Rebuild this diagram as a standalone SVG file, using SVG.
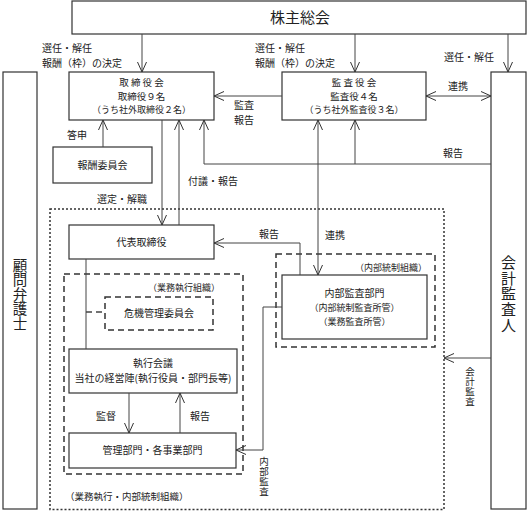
<svg xmlns="http://www.w3.org/2000/svg" width="527" height="511" viewBox="0 0 527 511">
<style>
text{font-family:"Noto Sans CJK JP","Noto Sans",sans-serif;fill:#222;font-size:10px}
.c{text-anchor:middle}
.big{font-size:15px}
.s{font-size:9px}
.m{font-size:9.5px}
.v{writing-mode:vertical-rl;font-size:9.5px;letter-spacing:0.3px}
.vb{writing-mode:vertical-rl;font-size:14.5px}
.box{fill:#fff;stroke:#333;stroke-width:1.2}
.dot{fill:none;stroke:#333;stroke-width:1.5;stroke-dasharray:2 2}
.dash{fill:none;stroke:#333;stroke-width:1.5;stroke-dasharray:6 4}
.ln{fill:none;stroke:#444;stroke-width:1}
</style>
<defs>
<marker id="a" viewBox="0 0 10 10" refX="10" refY="5" markerWidth="10" markerHeight="10" markerUnits="userSpaceOnUse" orient="auto-start-reverse">
<path d="M0,0.5 L10,5 L0,9.5" fill="none" stroke="#333" stroke-width="1"/>
</marker>
</defs>
<rect width="527" height="511" fill="#fff"/>

<g id="outer-org">
<rect class="dot" x="50" y="209" width="394" height="300.5"/>
<text x="65" y="500" style="font-size:9.5px">（業務執行・内部統制組織）</text>
</g>
<g id="exec-org">
<rect class="dash" x="64" y="274" width="179" height="200"/>
<text class="s" x="220" y="290.5" text-anchor="end">（業務執行組織）</text>
</g>
<g id="ic-org">
<rect class="dash" x="276" y="254" width="159" height="93"/>
<text class="s" x="427" y="270.5" text-anchor="end">（内部統制組織）</text>
</g>

<g id="shareholders">
<rect class="box" x="72" y="1" width="454" height="33"/>
<text class="c big" x="300" y="23">株主総会</text>
</g>
<g id="board">
<rect class="box" x="69" y="72" width="145" height="48"/>
<text class="c m" x="141.5" y="85.5">取 締 役 会</text>
<text class="c m" x="141.5" y="99.5">取締役９名</text>
<text class="c s" x="141.5" y="113">（うち社外取締役２名）</text>
</g>
<g id="auditors">
<rect class="box" x="282" y="72" width="144" height="48"/>
<text class="c m" x="354" y="85.5">監 査 役 会</text>
<text class="c m" x="354" y="99.5">監査役４名</text>
<text class="c s" x="354" y="113">（うち社外監査役３名）</text>
</g>
<g id="lawyer">
<rect class="box" x="3" y="72" width="34" height="437"/>
<text class="vb" x="20" y="258">顧問弁護士</text>
</g>
<g id="accountant">
<rect class="box" x="491" y="72" width="35" height="437"/>
<text class="vb" x="508.5" y="255" style="font-size:15px;letter-spacing:0.6px">会計監査人</text>
</g>
<g id="compensation">
<rect class="box" x="53" y="147" width="99" height="36"/>
<text class="c" x="102.5" y="168.5">報酬委員会</text>
</g>
<g id="ceo">
<rect class="box" x="69" y="225" width="145" height="34"/>
<text class="c" x="141.5" y="245.5">代表取締役</text>
</g>
<g id="risk">
<rect class="dash" x="105" y="297" width="108" height="33"/>
<text class="c" x="159" y="317">危機管理委員会</text>
</g>
<g id="exec-meeting">
<rect class="box" x="69" y="349" width="168" height="44"/>
<text class="c" x="153" y="366.5">執行会議</text>
<text class="c" x="153" y="381.5">当社の経営陣(執行役員・部門長等)</text>
</g>
<g id="departments">
<rect class="box" x="69" y="433" width="167" height="35"/>
<text class="c" x="152.5" y="454">管理部門・各事業部門</text>
</g>
<g id="internal-audit">
<rect class="box" x="282" y="275" width="145" height="64"/>
<text class="c" x="354.5" y="296.5">内部監査部門</text>
<text class="c s" x="354.5" y="311">（内部統制監査所管）</text>
<text class="c s" x="354.5" y="325">（業務監査所管）</text>
</g>

<g id="connectors">
<path class="ln" d="M142,34 V72" marker-end="url(#a)"/>
<path class="ln" d="M355,34 V72" marker-end="url(#a)"/>
<path class="ln" d="M508,34 V72" marker-end="url(#a)"/>
<path class="ln" d="M426,96 H491" marker-start="url(#a)" marker-end="url(#a)"/>
<path class="ln" d="M282,96 H214" marker-end="url(#a)"/>
<path class="ln" d="M103,147 V120" marker-end="url(#a)"/>
<path class="ln" d="M162,120 V225" marker-end="url(#a)"/>
<path class="ln" d="M179,225 V120" marker-end="url(#a)"/>
<path class="ln" d="M491,164 H204 V120" marker-end="url(#a)"/>
<path class="ln" d="M355,164 V120" marker-end="url(#a)"/>
<path class="ln" d="M318,120 V275" marker-start="url(#a)" marker-end="url(#a)"/>
<path class="ln" d="M300,275 V243 H214" marker-end="url(#a)"/>
<path class="ln" d="M86,259 V349"/>
<path class="ln" d="M86,312 H105" stroke-dasharray="6 4" style="stroke-width:1.5"/>
<path class="ln" d="M129,393 V433" marker-end="url(#a)"/>
<path class="ln" d="M180,433 V393" marker-end="url(#a)"/>
<path class="ln" d="M282,307 H263 V450 H236" marker-end="url(#a)"/>
<path class="ln" d="M491,358 H444" marker-end="url(#a)"/>

<text x="42" y="51.5">選任・解任</text>
<text x="42" y="66.5">報酬（枠）の決定</text>
<text x="255" y="51.5">選任・解任</text>
<text x="255" y="66.5">報酬（枠）の決定</text>
<text x="444" y="61">選任・解任</text>
<text x="448" y="89.5">連携</text>
<text x="234" y="109">監査</text>
<text x="234" y="124">報告</text>
<text x="67" y="138.5">答申</text>
<text x="443" y="156.5">報告</text>
<text x="188" y="184.5">付議・報告</text>
<text x="97" y="202.5">選定・解職</text>
<text x="259" y="237.5">報告</text>
<text x="325" y="238.5">連携</text>
<text x="96" y="419.5">監督</text>
<text x="190" y="419.5">報告</text>
<text class="v" x="264" y="457">内部監査</text>
<text class="v" x="470" y="367">会計監査</text>
</g>
</svg>
